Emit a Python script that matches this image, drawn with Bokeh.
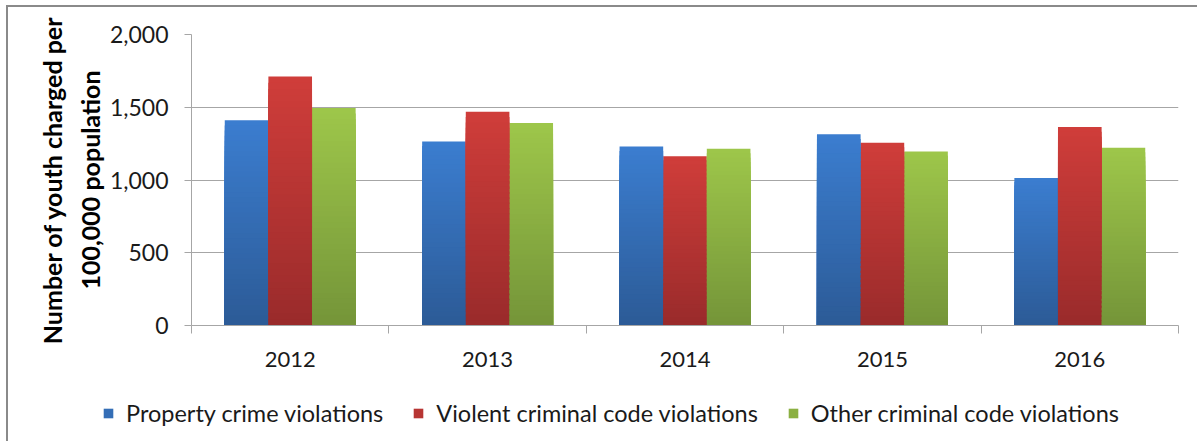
from bokeh.plotting import figure
from bokeh.models import (Range1d, FixedTicker, NumeralTickFormatter, ColumnDataSource,
                          Legend, LegendItem, Title)
from bokeh.embed import file_html
from bokeh.resources import INLINE

# ---- data ----
years = ["2012", "2013", "2014", "2015", "2016"]
series_names = ["Property crime violations", "Violent criminal code violations",
                "Other criminal code violations"]
property_crime = [1410, 1265, 1230, 1315, 1013]
violent_crime = [1711, 1469, 1164, 1256, 1365]
other_crime = [1494, 1391, 1214, 1196, 1221]
y_ticks = [0, 500, 1000, 1500, 2000]
y_title_lines = ["100,000 population", "Number of youth charged per"]

series_values = [property_crime, violent_crime, other_crime]
# gradient colours (top, bottom) per series
top_colors = [(0x3B, 0x7D, 0xCF), (0xCF, 0x3D, 0x3A), (0x9D, 0xC6, 0x4A)]
bot_colors = [(0x2C, 0x5B, 0x97), (0x9A, 0x2B, 0x2B), (0x75, 0x95, 0x39)]

FONT = "Lato"
BAR_W = 0.221
N_LAYERS = 40
W = 1191
BORDER = "2px solid #8a8a8a"

p = figure(width=W, height=366, output_backend="svg", toolbar_location=None,
           x_range=Range1d(0, len(years)), y_range=Range1d(0, 2000),
           min_border_left=183, min_border_top=27, min_border_right=21,
           min_border_bottom=48,
           styles={"margin-top": "5px", "margin-left": "6px",
                   "border-top": BORDER, "border-left": BORDER})
p.outline_line_color = None
p.background_fill_color = "white"
p.border_fill_color = "white"


def lerp(c1, c2, t):
    return "#%02x%02x%02x" % tuple(int(round(a + (b - a) * t)) for a, b in zip(c1, c2))


for k in range(N_LAYERS):
    t = k / (N_LAYERS - 1)
    frac = 1 - k / N_LAYERS
    xs, tops, cols = [], [], []
    for s, vals in enumerate(series_values):
        for i, v in enumerate(vals):
            xs.append(i + 0.5 + (s - 1) * BAR_W)
            tops.append(v * frac)
            cols.append(lerp(top_colors[s], bot_colors[s], t))
    src = ColumnDataSource(dict(x=xs, top=tops, color=cols))
    p.vbar(x="x", top="top", bottom=0, width=BAR_W, source=src,
           fill_color="color", line_color=None)

# ---- axes ----
grey = "#a6a6a6"
xa = p.xaxis[0]
xa.ticker = FixedTicker(ticks=[i + 0.5 for i in range(len(years))],
                        minor_ticks=list(range(len(years) + 1)))
xa.major_label_overrides = {i + 0.5: y for i, y in enumerate(years)}
xa.major_tick_line_color = None
xa.major_tick_out = 0
xa.major_tick_in = 0
xa.minor_tick_out = 8
xa.minor_tick_in = 0
xa.minor_tick_line_color = grey
xa.axis_line_color = grey
xa.major_label_text_font = FONT
xa.major_label_text_font_size = "22px"
xa.major_label_text_color = "#1a1a1a"
xa.major_label_standoff = 18

ya = p.yaxis[0]
ya.ticker = FixedTicker(ticks=y_ticks)
ya.formatter = NumeralTickFormatter(format="0,0")
ya.major_tick_out = 7
ya.major_tick_in = 0
ya.major_tick_line_color = grey
ya.minor_tick_line_color = None
ya.axis_line_color = grey
ya.major_label_text_font = FONT
ya.major_label_text_font_size = "23px"
ya.major_label_text_color = "#1a1a1a"
ya.major_label_standoff = 16

# two-line y-axis title (inner line first)
for line, gap in zip(y_title_lines, [4, 7]):
    p.add_layout(Title(text=line, align="center", offset=-28, standoff=gap,
                       text_font=FONT, text_font_style="bold", text_font_size="25px",
                       text_color="black"), "left")

p.xgrid.grid_line_color = None
p.ygrid.grid_line_color = grey
p.ygrid.grid_line_width = 1

# ---- legend strip ----
p2 = figure(width=W, height=70, output_backend="svg", toolbar_location=None,
            x_range=Range1d(0, 1), y_range=Range1d(0, 1),
            x_axis_location=None, y_axis_location=None, min_border=0,
            styles={"margin-left": "6px", "border-left": BORDER})
p2.outline_line_color = None
p2.xgrid.grid_line_color = None
p2.ygrid.grid_line_color = None
mid_colors = [lerp(a, b, 0.45) for a, b in zip(top_colors, bot_colors)]
swatches = [p2.vbar(x=[0], top=[0], width=0.01, fill_color=c, line_color=None)
            for c in mid_colors]
items = [LegendItem(label=name, renderers=[r]) for name, r in zip(series_names, swatches)]
legend = Legend(items=items, orientation="horizontal", location=(94, 14),
                glyph_width=12, glyph_height=12, label_standoff=12, spacing=29,
                padding=0, margin=0, border_line_color=None, background_fill_alpha=0,
                label_text_font=FONT, label_text_font_size="23.5px",
                label_text_color="#1a1a1a")
p2.add_layout(legend, "center")

open("out.html", "w").write(file_html([p, p2], INLINE))
